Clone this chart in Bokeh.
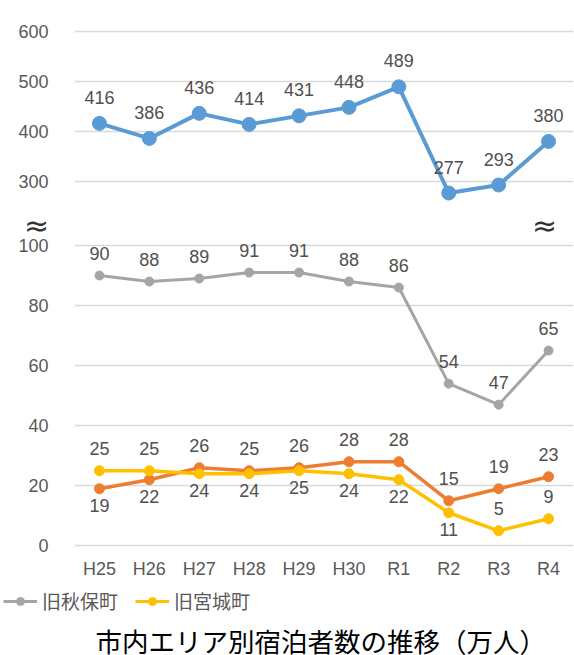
from bokeh.plotting import figure
from bokeh.models import (Range1d, FactorRange, FixedTicker, ColumnDataSource,
                          Label, Legend, LegendItem)
from bokeh.layouts import column, row
from bokeh.embed import file_html
from bokeh.resources import INLINE
from bokeh.core.properties import value

# ---------------- data ----------------
years = ["H25", "H26", "H27", "H28", "H29", "H30", "R1", "R2", "R3", "R4"]
central = [416, 386, 436, 414, 431, 448, 489, 277, 293, 380]      # blue (upper panel)
akiu = [90, 88, 89, 91, 91, 88, 86, 54, 47, 65]                   # 旧秋保町 (gray)
other = [19, 22, 26, 25, 26, 28, 28, 15, 19, 23]                  # orange
miyagi = [25, 25, 24, 24, 25, 24, 22, 11, 5, 9]                   # 旧宮城町 (yellow)
top_ticks = [300, 400, 500, 600]
bottom_ticks = [0, 20, 40, 60, 80, 100]
legend_labels = ["旧秋保町", "旧宮城町"]
title_text = "市内エリア別宿泊者数の推移（万人）"
break_mark = "≈"

# label placement (style)
other_pos = ["below", "below", "above", "above", "above", "above", "above", "above", "above", "above"]
miyagi_pos = ["above", "above", "below", "below", "below", "below", "below", "below", "above", "above"]

NUM_FONT = "Liberation Sans"
JP_FONT = "Noto Sans CJK JP"
TICK_COLOR = "#595959"
LABEL_COLOR = "#505050"
GRID_COLOR = "#D9D9D9"
BLUE = "#5B9BD5"
GRAY = "#A5A5A5"
ORANGE = "#ED7D31"
YELLOW = "#FFC000"

W = 574
LEFT = 74
RIGHT = 1

x_range = FactorRange(factors=years, range_padding=0)


def style(p, ticks):
    p.outline_line_color = None
    p.xgrid.visible = False
    p.ygrid.ticker = FixedTicker(ticks=ticks)
    p.ygrid.grid_line_color = GRID_COLOR
    p.ygrid.grid_line_width = 1.5
    p.yaxis.ticker = FixedTicker(ticks=ticks)
    p.yaxis.axis_line_color = None
    p.yaxis.major_tick_line_color = None
    p.yaxis.minor_tick_line_color = None
    p.yaxis.major_tick_out = 0
    p.yaxis.major_label_standoff = 26
    p.yaxis.major_label_text_font = NUM_FONT
    p.yaxis.major_label_text_font_size = "18px"
    p.yaxis.major_label_text_color = TICK_COLOR


def labels(p, xs, ys, offsets, texts=None, color=LABEL_COLOR):
    t = texts if texts is not None else [str(v) for v in ys]
    src = ColumnDataSource(dict(x=xs, y=ys, t=t, o=offsets))
    p.text(x="x", y="y", text="t", y_offset="o", source=src,
           text_align="center", text_baseline="middle",
           text_font=value(NUM_FONT), text_font_size="18px", text_color=color)


def strip(height):
    p = figure(width=W, height=height, x_range=Range1d(0, 1), y_range=Range1d(0, 1),
               x_axis_location=None, y_axis_location=None, output_backend="svg",
               toolbar_location=None, min_border=0)
    p.outline_line_color = None
    p.grid.visible = False
    return p


# ---------------- upper panel (page y 0..210) ----------------
top = figure(x_range=x_range, y_range=Range1d(242.1, 661.3), width=W, height=210,
             x_axis_location=None, output_backend="svg", toolbar_location=None,
             min_border_left=LEFT, min_border_right=RIGHT, min_border_top=0,
             min_border_bottom=0)
style(top, top_ticks)
top.line(years, central, line_color=BLUE, line_width=4)
top.scatter(years, central, size=14, fill_color=BLUE, line_color=BLUE)
labels(top, years, central, [-26] * len(years))

# ---------------- break marks row (page y 210..234) ----------------
mid = strip(24)
for sx in (36, 544):
    mid.add_layout(Label(x=sx, y=9, x_units="screen", y_units="screen", text=break_mark,
                         text_font="DejaVu Sans", text_font_size="30px",
                         text_color="#333333", text_align="center",
                         text_baseline="middle"))

# ---------------- lower panel (page y 234..582) ----------------
bot = figure(x_range=x_range, y_range=Range1d(-12.22, 103.66), width=W, height=348,
             x_axis_location=None, output_backend="svg", toolbar_location=None,
             min_border_left=LEFT, min_border_right=RIGHT, min_border_top=0,
             min_border_bottom=0)
style(bot, bottom_ticks)

bot.line(years, akiu, line_color=GRAY, line_width=3)
bot.scatter(years, akiu, size=9, fill_color=GRAY, line_color=GRAY)
bot.line(years, other, line_color=ORANGE, line_width=3.5)
bot.scatter(years, other, size=10, fill_color=ORANGE, line_color=ORANGE)
bot.line(years, miyagi, line_color=YELLOW, line_width=3.5)
bot.scatter(years, miyagi, size=10, fill_color=YELLOW, line_color=YELLOW)

labels(bot, years, akiu, [-22] * len(years))
labels(bot, years, other, [-22 if s == "above" else 17 for s in other_pos])
labels(bot, years, miyagi, [-22 if s == "above" else 17 for s in miyagi_pos])
# category (x tick) labels under the zero line
labels(bot, years, [bottom_ticks[0]] * len(years), [23] * len(years), texts=years,
       color=TICK_COLOR)

# ---------------- legend strip (page y 582..622) ----------------
leg = figure(width=W, height=40, x_range=FactorRange(factors=years),
             y_range=Range1d(1000, 1001), x_axis_location=None, y_axis_location=None,
             output_backend="svg", toolbar_location=None, min_border=0)
leg.outline_line_color = None
leg.grid.visible = False
# series drawn out of this strip's view: they only supply the legend glyphs
gl = leg.line(years, akiu, line_color=GRAY, line_width=3)
gs = leg.scatter(years, akiu, size=8, fill_color=GRAY, line_color=GRAY)
yl = leg.line(years, miyagi, line_color=YELLOW, line_width=3)
ys = leg.scatter(years, miyagi, size=8, fill_color=YELLOW, line_color=YELLOW)
legend = Legend(items=[LegendItem(label=legend_labels[0], renderers=[gl, gs]),
                       LegendItem(label=legend_labels[1], renderers=[yl, ys])],
                orientation="horizontal", location=(3, 8),
                label_text_font=JP_FONT, label_text_font_size="19px",
                label_text_color=TICK_COLOR, glyph_width=34, glyph_height=20,
                label_height=20, label_standoff=5, spacing=17, padding=0, margin=0,
                border_line_color=None, background_fill_alpha=0)
leg.add_layout(legend)

# ---------------- caption strip (page y 622..655) ----------------
cap = figure(width=W, height=33, x_range=Range1d(0, 1), y_range=Range1d(0, 1),
             x_axis_location=None, y_axis_location=None, output_backend="svg",
             toolbar_location=None, min_border_left=LEFT, min_border_right=RIGHT,
             min_border_top=0, min_border_bottom=0)
cap.outline_line_color = None
cap.grid.visible = False
cap.add_layout(Label(x=95 - LEFT, y=15, x_units="screen", y_units="screen",
                     text=title_text, text_font=JP_FONT, text_font_size="26.5px",
                     text_color="black", text_align="left", text_baseline="middle"))

layout = column(column(top, row(mid), bot, spacing=0), row(leg), cap, spacing=0)
open("out.html", "w").write(file_html(layout, INLINE))
